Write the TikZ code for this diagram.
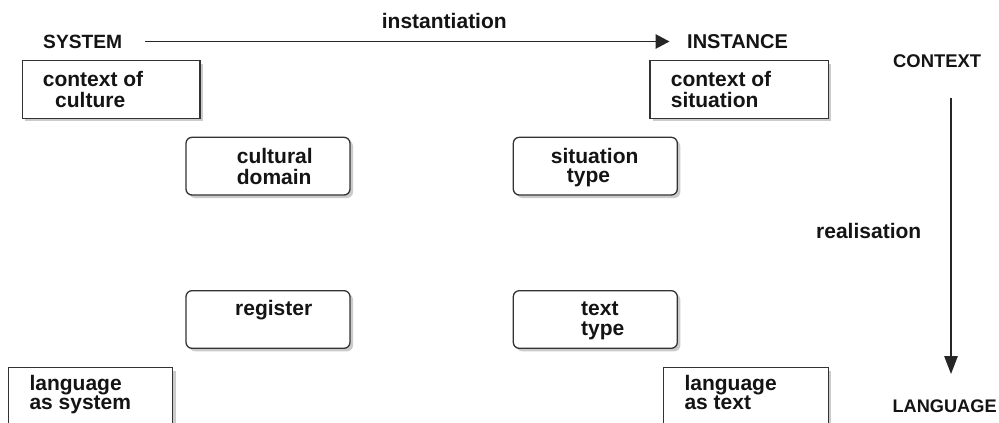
\documentclass[tikz,border=0pt]{standalone}
\usepackage{fontspec}
\setmainfont{Liberation Sans}
\usetikzlibrary{arrows.meta,shadows}
\tikzset{
  boxbase/.style={draw=black!80, line width=1.3pt, fill=white, anchor=north west,
    inner sep=0pt, outer sep=0pt,
    drop shadow={shadow xshift=3pt, shadow yshift=-3pt, fill=black!40, opacity=0.5}},
  sqbox/.style={boxbase},
  rbox/.style={boxbase, rounded corners=6pt},
  lbl/.style={font=\fontsize{21}{19.5}\bfseries\selectfont, text=black!92, inner sep=0pt, anchor=base west},
  caplbl/.style={font=\fontsize{#1}{#1}\bfseries\selectfont, text=black!92, inner sep=0pt, anchor=base west},
  caplbl/.default=19,
  conn/.style={line width=1.3pt, draw=black!85},
}
\newcommand{\twol}[2]{\begin{tabular}[t]{@{}l@{}}#1\\#2\end{tabular}}
\begin{document}
\begin{tikzpicture}[x=1pt,y=-1pt]
\useasboundingbox (0,0) rectangle (999,423);
\clip (0,0) rectangle (999,423);
\fill[white] (0,0) rectangle (999,423);

% boxes
\node[sqbox, minimum width=177.7pt, minimum height=57.6pt] (cc) at (22.3,60.7) {};
\node[sqbox, minimum width=178.3pt, minimum height=57.6pt] (cs) at (650,60.7) {};
\node[rbox, minimum width=164pt, minimum height=57.7pt] (cd) at (186,137.3) {};
\node[rbox, minimum width=164pt, minimum height=57.7pt] (st) at (513.3,137.3) {};
\node[rbox, minimum width=164pt, minimum height=57.6pt] (rg) at (186,290.7) {};
\node[rbox, minimum width=164pt, minimum height=57.6pt] (tt) at (513.3,290.7) {};
\node[sqbox, minimum width=164.4pt, minimum height=80pt] (ls) at (8.3,367.7) {};
\node[sqbox, minimum width=165pt, minimum height=80pt] (lt) at (663.3,367.7) {};

% box texts
\node[lbl] (tcc) at (42.7,86) {\twol{context of}{\hspace{12.3pt}culture}};
\node[lbl] (tcs) at (670.7,86) {\twol{context of}{situation}};
\node[lbl] (tcd) at (236.7,163.3) {\twol{cultural}{domain}};
\node[lbl] (tst) at (550.7,163.3) {\twol{situation}{\hspace{16pt}type}};
\node[lbl] (trg) at (235,315.5) {register};
\node[lbl] (ttt) at (581,315.5) {\twol{text}{type}};
\node[lbl] (tls) at (29.3,390) {\twol{language}{as system}};
\node[lbl] (tlt) at (684.3,390) {\twol{language}{as text}};

% headings
\node[caplbl=19.2] (sys) at (43,48) {SYSTEM};
\node[caplbl=20] (inst) at (687,48) {INSTANCE};
\node[caplbl=18.4] (ctx) at (893,67.5) {CONTEXT};
\node[caplbl=18.2] (lang) at (892.3,412) {LANGUAGE};
\node[lbl] (inst-lbl) at (381.7,28.3) {instantiation};
\node[lbl] (real-lbl) at (816,238.3) {realisation};

% connectors
\draw[conn, -{Triangle[length=14pt,width=14.5pt]}]
  ([xshift=23pt,yshift=6.5pt]sys.base east) -- ([xshift=-17.5pt,yshift=6.5pt]inst.base west);
\coordinate (rtop) at (951,98);
\coordinate (rbot) at (951,374);
\draw[conn, -{Triangle[length=18pt,width=13.5pt]}] (rtop) -- (rbot);
\end{tikzpicture}
\end{document}
